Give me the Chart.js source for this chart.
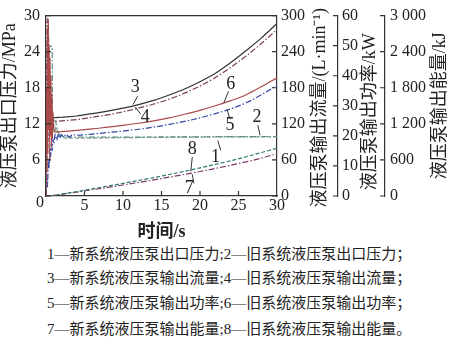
<!DOCTYPE html>
<html>
<head>
<meta charset="utf-8">
<script src="https://cdn.jsdelivr.net/npm/chart.js@4.4.0/dist/chart.umd.min.js"></script>
<style>
body { margin: 0; background: #fff; }
#wrap { position: relative; width: 450px; height: 342px; overflow: hidden; }
#box { position: absolute; left: 0; top: 0; width: 450px; height: 244px; }
.note { position: absolute; left: 47px; font: 15px "Liberation Serif", "Noto Sans CJK SC"; color: #222; line-height: 20px; white-space: nowrap; }
</style>
</head>
<body>
<div id="wrap">
  <div id="box"><canvas id="c"></canvas></div>
  <div class="note" style="top:244px">1—新系统液压泵出口压力;2—旧系统液压泵出口压力；</div>
  <div class="note" style="top:268px">3—新系统液压泵输出流量;4—旧系统液压泵输出流量；</div>
  <div class="note" style="top:293px">5—新系统液压泵输出功率;6—旧系统液压泵输出功率；</div>
  <div class="note" style="top:319px">7—新系统液压泵输出能量;8—旧系统液压泵输出能量。</div>
</div>
<script>
// time axis ticks (s)
const timeTicks = [0, 5, 10, 15, 20, 25, 30];

// 1 / 2 outlet pressure, MPa
const pressNewT = [0, 0.3, 0.5, 0.7, 0.9, 1.1, 1.3, 1.6, 2, 3, 4, 10, 20, 30];
const pressNew = [0, 9, 12.5, 11, 13, 10.5, 11.5, 10.2, 9.8, 9.6, 9.6, 9.7, 9.8, 9.85];
const pressOldT = [0, 0.1, 0.8, 0.85, 1.2, 1.5, 2, 3, 10, 20, 30];
const pressOld = [0, 25, 24.8, 13, 12.5, 10.8, 10, 9.8, 9.8, 9.85, 9.9];

// 3 / 4 flow, L/min
const flowNewT = [0.7, 1, 2, 4, 6, 8, 10, 12, 14, 16, 18, 20, 22, 24, 26, 28, 30];
const flowNew = [130, 130, 131, 133, 137, 141, 146, 152, 159, 168, 178, 190, 204, 222, 242, 263, 287];
const flowOldT = [0.05, 0.15, 0.3, 0.45, 0.6, 0.8, 1, 2, 4, 6, 8, 10, 12, 14, 16, 18, 20, 22, 24, 26, 28, 30];
const flowOld = [0, 295, 280, 200, 150, 124, 124, 125, 127, 131, 135, 140, 146, 153, 161, 171, 183, 197, 214, 233, 254, 277];

// 5 / 6 power, kW
const powerNewT = [0, 0.1, 0.2, 0.3, 0.4, 0.5, 0.6, 0.7, 0.8, 0.9, 1.0, 1.2, 1.4, 1.6, 1.8, 2.0, 2.3, 2.6, 3, 3.5, 4, 6, 8, 10, 12, 14, 16, 18, 20, 22, 24, 26, 28, 30];
const powerNew = [0, 6, 3, 12, 9, 16, 13, 18, 15, 19, 17.5, 20.5, 18.5, 20.6, 19.2, 20.4, 19.6, 20.5, 19.7, 20.4, 20.2, 20.6, 21.1, 21.6, 22.2, 22.9, 23.8, 24.8, 26.0, 27.4, 29.0, 31.0, 33.7, 36.8];
const powerOldT = [0, 0.06, 0.12, 0.18, 0.24, 0.3, 0.36, 0.42, 0.48, 0.54, 0.6, 0.66, 0.72, 0.78, 0.84, 0.9, 1, 1.2, 2, 4, 6, 8, 10, 12, 14, 16, 18, 20, 22, 24, 26, 28, 30];
const powerOld = [0, 35, 8, 56, 14, 59, 22, 50, 12, 46, 20, 40, 16, 34, 19, 28, 23, 21.3, 21.4, 21.8, 22.3, 22.9, 23.5, 24.2, 25.0, 26.0, 27.2, 28.5, 30.0, 31.7, 33.7, 36.4, 39.3];

// 7 / 8 energy, kJ
const energyT = [0.5, 2, 4, 6, 8, 10, 12, 14, 16, 18, 20, 22, 24, 26, 28, 30];
const energyNew = [0, 27, 65, 104, 143, 183, 225, 268, 313, 359, 407, 458, 511, 568, 630, 705];
const energyOld = [0, 32, 75, 119, 164, 210, 258, 307, 358, 411, 467, 526, 587, 653, 723, 795];

// curve number labels: [text, x(s), y(MPa scale), leader from x, y, to x, y]
const curveLabels = [
  ['3', 11.6, 18.0, 11.9, 16.6, 11.3, 15.2],
  ['4', 12.9, 13.1, 11.6, 14.8, 12.3, 13.6],
  ['6', 24.0, 18.6, 23.7, 17.4, 23.1, 15.5],
  ['5', 23.9, 11.7, 23.5, 14.4, 23.9, 12.8],
  ['2', 27.4, 13.1, 27.5, 11.8, 27.8, 10.1],
  ['1', 22.0, 6.5, 22.3, 9.2, 22.7, 7.6],
  ['8', 19.0, 7.7, 19.0, 6.5, 18.8, 4.1],
  ['7', 18.6, 1.3, 19.0, 3.6, 19.2, 2.1]
];

const FONT = '"Liberation Serif", "Noto Sans CJK SC"';
const INK = '#222';
const DASH = [4, 2];
const DASHDOT = [6, 2, 1.5, 2];

function pts(t, v) {
  return t.map((x, i) => ({ x: x, y: v[i] }));
}

function line(data, axis, color, dash, width) {
  return {
    data: data,
    yAxisID: axis,
    borderColor: color,
    borderDash: dash,
    borderWidth: width || 1.2,
    pointRadius: 0,
    fill: false,
    cubicInterpolationMode: 'monotone'
  };
}

const extras = {
  id: 'extras',
  afterDraw(chart) {
    const ctx = chart.ctx;
    const a = chart.chartArea;
    const s = chart.scales;
    ctx.save();
    ctx.strokeStyle = '#333';
    ctx.lineWidth = 1.2;
    // top frame
    ctx.beginPath();
    ctx.moveTo(a.left, a.top);
    ctx.lineTo(a.right, a.top);
    ctx.stroke();
    // inward tick marks
    ctx.beginPath();
    s.x.ticks.forEach(t => {
      if (t.value === 0 || t.value === 30) return;
      const p = s.x.getPixelForValue(t.value);
      ctx.moveTo(p, a.bottom);
      ctx.lineTo(p, a.bottom - 5);
    });
    s.yP.ticks.forEach(t => {
      const p = s.yP.getPixelForValue(t.value);
      ctx.moveTo(a.left, p);
      ctx.lineTo(a.left + 5, p);
    });
    ['yF', 'yW', 'yE'].forEach(id => {
      const sc = s[id];
      sc.ticks.forEach(t => {
        const p = sc.getPixelForValue(t.value);
        ctx.moveTo(sc.left, p);
        ctx.lineTo(sc.left - 5, p);
      });
    });
    ctx.stroke();

    // axis titles
    ctx.fillStyle = INK;
    ctx.font = '18px ' + FONT;
    ctx.textAlign = 'center';
    ctx.textBaseline = 'middle';
    const mid = (a.top + a.bottom) / 2;
    const vt = (text, x, y) => {
      ctx.save();
      ctx.translate(x, y);
      ctx.rotate(-Math.PI / 2);
      ctx.fillText(text, 0, 0);
      ctx.restore();
    };
    vt('液压泵出口压力/MPa', 10, mid);
    vt('液压泵输出流量/(L·min⁻¹)', s.yF.left + 43, mid + 2);
    vt('液压泵输出功率/kW', s.yW.left + 32, mid + 6);
    vt('液压泵输出能量/kJ', s.yE.left + 55, mid);
    ctx.font = 'bold 18px ' + FONT;
    ctx.fillText('时间/s', s.x.getPixelForValue(15), a.bottom + 36);
    ctx.font = '16px ' + FONT;
    ctx.fillText('0', a.left - 6, a.bottom + 7);

    // curve numbers with leader lines
    ctx.font = '18px ' + FONT;
    ctx.lineWidth = 1;
    curveLabels.forEach(c => {
      const X = v => s.x.getPixelForValue(v);
      const Y = v => s.yP.getPixelForValue(v);
      ctx.fillText(c[0], X(c[1]), Y(c[2]));
      ctx.beginPath();
      ctx.moveTo(X(c[3]), Y(c[4]));
      ctx.lineTo(X(c[5]), Y(c[6]));
      ctx.stroke();
    });
    ctx.restore();
  }
};

const tickFont = { family: FONT, size: 16 };
const noGrid = { drawOnChartArea: false, drawTicks: false };
const border = { color: '#333', width: 1.2 };

new Chart(document.getElementById('c'), {
  type: 'line',
  data: {
    datasets: [
      line(pts(powerOldT, powerOld), 'yW', '#a8494a', [], 1.2),
      line(pts(flowOldT, flowOld), 'yF', '#7a3d50', DASHDOT),
      line(pts(flowNewT, flowNew), 'yF', '#333333', [], 1.2),
      line(pts(powerNewT, powerNew), 'yW', '#3447a6', DASHDOT),
      line(pts(pressOldT, pressOld), 'yP', '#5d8f85', DASHDOT),
      line(pts(pressNewT, pressNew), 'yP', '#7f9c94', DASH),
      line(pts(energyT, energyOld), 'yE', '#2f7c6c', DASH),
      line(pts(energyT, energyNew), 'yE', '#7b3a68', DASHDOT)
    ]
  },
  options: {
    responsive: true,
    maintainAspectRatio: false,
    animation: false,
    layout: { padding: { top: 6, left: 0, right: 0, bottom: 0 } },
    plugins: { legend: { display: false }, tooltip: { enabled: false } },
    scales: {
      x: {
        type: 'linear', position: 'bottom', min: 0, max: 30,
        afterBuildTicks: sc => { sc.ticks = timeTicks.map(v => ({ value: v })); },
        ticks: { font: tickFont, color: INK, padding: 0, maxRotation: 0,
          callback: v => v === 0 ? '' : v },
        grid: noGrid, border: border,
        afterFit: sc => { sc.height = 48; }
      },
      yP: {
        position: 'left', min: 0, max: 30,
        ticks: { stepSize: 6, font: tickFont, color: INK, padding: 6,
          callback: v => v === 0 ? '' : v },
        grid: noGrid, border: border,
        afterFit: sc => { sc.width = 46; }
      },
      yF: {
        position: 'right', min: 0, max: 300,
        ticks: { stepSize: 60, font: tickFont, color: INK, padding: 4 },
        grid: noGrid, border: border,
        afterFit: sc => { sc.width = 61; }
      },
      yW: {
        position: 'right', min: 0, max: 60,
        ticks: { stepSize: 10, font: tickFont, color: INK, padding: 4 },
        grid: noGrid, border: border,
        afterFit: sc => { sc.width = 47; }
      },
      yE: {
        position: 'right', min: 0, max: 3000,
        ticks: { stepSize: 600, font: tickFont, color: INK, padding: 5,
          callback: v => v >= 1000 ? Math.floor(v / 1000) + ' ' + String(v % 1000).padStart(3, '0') : v },
        grid: noGrid, border: border,
        afterFit: sc => { sc.width = 65; }
      }
    }
  },
  plugins: [extras]
});
</script>
</body>
</html>
